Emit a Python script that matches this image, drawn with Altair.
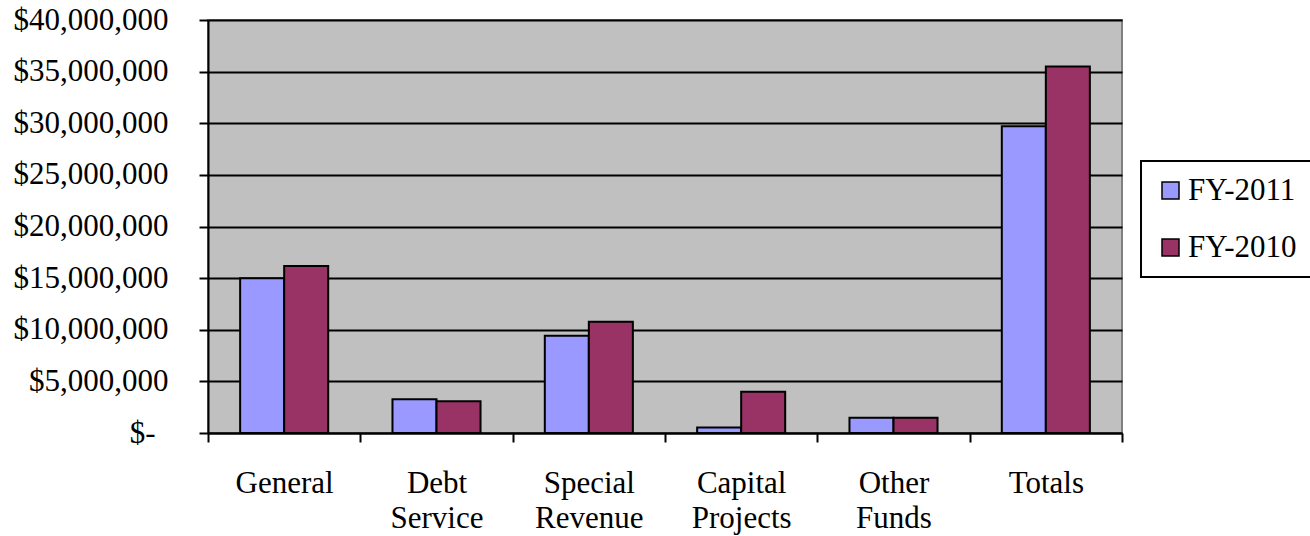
import altair as alt
import pandas as pd

# Fund categories and the two fiscal-year series
categories = ["General", "Debt Service", "Special Revenue", "Capital Projects", "Other Funds", "Totals"]
years = ["FY-2011", "FY-2010"]
fy2011 = [15000000, 3260000, 9430000, 540000, 1480000, 29710000]
fy2010 = [16170000, 3070000, 10780000, 4000000, 1480000, 35500000]
y_ticks = [0, 5000000, 10000000, 15000000, 20000000, 25000000, 30000000, 35000000, 40000000]
colors = ["#9999FF", "#993366"]

rows = []
for cat, a, b in zip(categories, fy2011, fy2010):
    rows.append({"fund": cat, "year": years[0], "amount": a})
    rows.append({"fund": cat, "year": years[1], "amount": b})
df = pd.DataFrame(rows)

FONT = "Liberation Serif"
SIZE = 31

bars = alt.Chart(df).mark_bar(stroke="black", strokeWidth=2).encode(
    x=alt.X(
        "fund:N",
        sort=categories,
        title=None,
        scale=alt.Scale(paddingInner=0, paddingOuter=0),
        axis=alt.Axis(
            labelAngle=0,
            labelFont=FONT,
            labelFontSize=SIZE,
            labelColor="black",
            labelExpr="split(datum.label, ' ')",
            labelLineHeight=35,
            labelPadding=26,
            labelBaseline="top",
            tickBand="extent",
            tickSize=9,
            tickWidth=2,
            tickColor="black",
            domainColor="black",
            domainWidth=2,
            grid=False,
        ),
    ),
    xOffset=alt.XOffset(
        "year:N",
        sort=years,
        scale=alt.Scale(paddingOuter=0.73, paddingInner=0),
    ),
    y=alt.Y(
        "amount:Q",
        title=None,
        scale=alt.Scale(domain=[0, 40000000], nice=False),
        axis=alt.Axis(
            values=y_ticks,
            labelExpr="datum.value == 0 ? '$-' : '$' + format(datum.value, ',')",
            labelFont=FONT,
            labelFontSize=SIZE,
            labelColor="black",
            # the zero label sits further in, accounting style
            labelPadding={"condition": {"test": "datum.value === 0", "value": 44}, "value": 31},
            tickSize=9,
            tickWidth=2,
            tickColor="black",
            domainColor="black",
            domainWidth=2,
            grid=True,
            gridColor="black",
            gridWidth=2,
            gridOpacity=1,
        ),
    ),
    color=alt.Color(
        "year:N",
        sort=years,
        scale=alt.Scale(domain=years, range=colors),
        legend=alt.Legend(
            title=None,
            orient="none",
            legendX=933,
            legendY=141,
            symbolType="square",
            symbolSize=289,
            symbolStrokeColor="black",
            symbolStrokeWidth=1.5,
            symbolOpacity=1,
            labelFont=FONT,
            labelFontSize=SIZE,
            labelColor="black",
            labelOffset=2,
            rowPadding=25,
            padding=14,
            strokeColor="black",
            fillColor="white",
            labelLimit=300,
        ),
    ),
)

chart = bars.properties(
    width=914,
    height=413,
    autosize=alt.AutoSizeParams(type="none"),
    padding={"left": 208, "top": 20, "right": 188, "bottom": 103},
    background="white",
).configure_view(
    fill="#C0C0C0",
    stroke="#808080",
    strokeWidth=2,
).configure_legend(
    strokeWidth=2,
)

chart.save("out.html", embed_options={"renderer": "svg", "actions": False})
